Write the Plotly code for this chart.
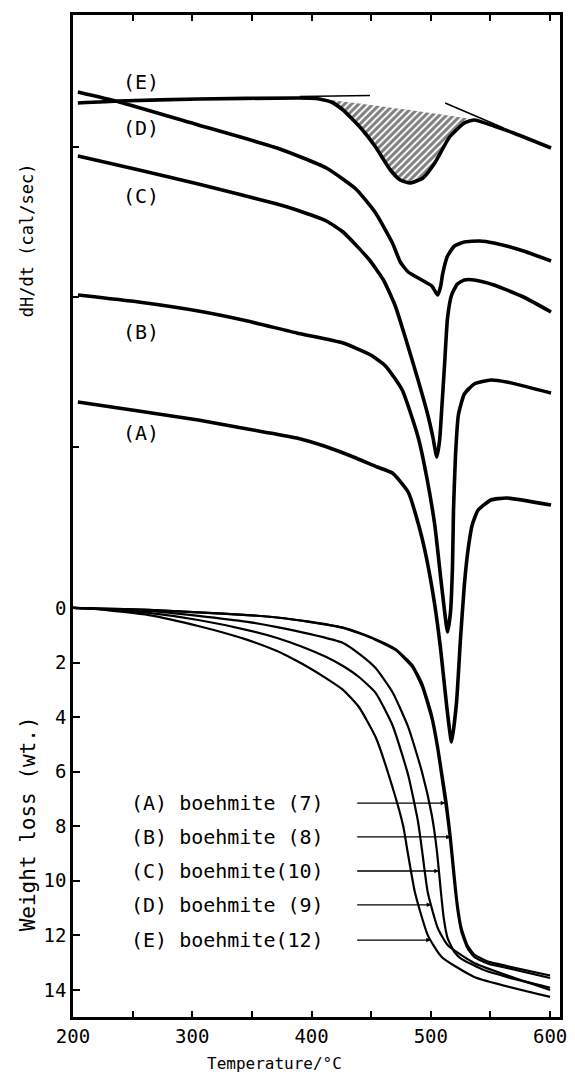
import numpy as np
import plotly.graph_objects as go

# ---- DTA curves (dH/dt, arbitrary offset units) ----
dta_A_T = [204.1, 255.0, 305.0, 346.3, 387.6, 413.0, 437.2, 455.0, 467.8, 481.0, 490.9, 496.7, 503.3,
           508.3, 513.2, 517.4, 521.5, 524.8, 528.1, 531.4, 534.7, 539.7, 550.4, 563.6, 600.8]
dta_A_v = [61.5, 60.6, 59.7, 58.8, 57.9, 57.0, 55.9, 55.0, 54.4, 52.5, 48.7, 45.7, 41.2,
           36.7, 31.2, 27.5, 31.4, 37.7, 43.2, 46.9, 49.2, 50.7, 51.7, 51.9, 51.2]

dta_B_T = [204.1, 255.0, 305.0, 346.3, 387.6, 426.4, 449.6, 462.0, 476.0, 489.3, 496.7, 503.3, 508.3,
           511.6, 514.0, 516.5, 518.2, 519.0, 520.7, 523.1, 528.1, 536.4, 550.4, 563.6, 600.8]
dta_B_v = [72.2, 71.5, 70.6, 69.6, 68.4, 67.4, 66.2, 65.1, 62.7, 58.0, 53.9, 49.2, 43.9,
           40.5, 38.5, 40.5, 45.2, 50.7, 56.2, 60.2, 62.3, 63.3, 63.7, 63.5, 62.4]

dta_C_T = [204.1, 255.4, 305.0, 371.1, 387.6, 412.4, 426.4, 447.9, 460.3, 470.2, 478.5, 489.3, 497.5,
           501.7, 505.0, 507.4, 509.1, 511.6, 514.0, 517.4, 522.3, 528.1, 536.4, 552.9, 577.7, 600.8]
dta_C_v = [86.1, 84.7, 83.3, 81.3, 80.7, 79.6, 78.5, 75.8, 73.7, 71.1, 68.0, 63.7, 60.2,
           58.0, 56.0, 57.7, 60.7, 65.4, 69.9, 72.2, 73.3, 73.7, 73.7, 73.2, 72.0, 70.5]

dta_D_T = [204.1, 238.8, 305.0, 371.1, 412.4, 437.2, 453.7, 467.8, 474.4, 481.0, 490.9, 500.8,
           505.8, 508.3, 509.9, 514.0, 519.8, 528.1, 540.5, 552.9, 577.7, 600.8]
dta_D_v = [92.5, 91.5, 89.2, 86.9, 84.9, 82.8, 80.4, 77.4, 75.5, 74.5, 73.8, 73.1,
           72.2, 73.1, 74.3, 76.1, 77.1, 77.5, 77.6, 77.4, 76.6, 75.6]

dta_E_T = [204.1, 238.8, 305.0, 388.0, 404.0, 416.5, 426.4, 441.3, 453.7, 466.1, 474.4, 482.6,
           493.4, 503.3, 515.7, 528.1, 536.4, 552.9, 569.4, 600.8]
dta_E_v = [91.4, 91.6, 91.8, 91.9, 91.85, 91.5, 90.7, 88.9, 87.0, 84.7, 83.7, 83.4,
           83.9, 85.4, 88.0, 89.4, 89.7, 89.1, 88.4, 86.9]

# tangent construction lines on curve E
tan_left_T = [390, 449]
tan_left_v = [92.05, 92.15]
tan_right_T = [512, 561]
tan_right_v = [91.4, 88.9]
peak_span = [404, 536.4]        # shaded endotherm of E

# ---- TG curves (weight loss, wt.%) ----
tg_A_T = [200, 222.3, 263.6, 305.0, 346.3, 371.1, 398.0, 426.4, 440.0, 453.7, 470.2, 484.3, 492.6,
          500.8, 505.8, 509.9, 513.2, 516.5, 519.8, 522.3, 525.6, 530.6, 536.4, 548.8, 563.6, 600]
tg_A_w = [0, 0.02, 0.07, 0.16, 0.26, 0.35, 0.51, 0.73, 0.93, 1.17, 1.54, 2.16, 2.89,
          4.10, 5.28, 6.49, 7.48, 8.68, 10.15, 11.07, 11.87, 12.46, 12.79, 13.05, 13.19, 13.56]

tg_B_T = tg_A_T
tg_B_w = [0, 0.02, 0.07, 0.16, 0.26, 0.35, 0.50, 0.72, 0.91, 1.15, 1.50, 2.08, 2.75,
          3.90, 5.00, 6.15, 7.10, 8.30, 9.75, 10.80, 11.70, 12.35, 12.70, 12.97, 13.12, 13.47]

tg_C_T = [200, 222.3, 263.6, 305.0, 346.3, 371.1, 398.0, 426.4, 440.0, 453.7, 467.8, 481.0, 492.6,
          500.8, 505.0, 508.3, 510.8, 514.0, 519.8, 525.6, 544.6, 563.6, 600]
tg_C_w = [0, 0.03, 0.11, 0.29, 0.51, 0.70, 0.95, 1.28, 1.68, 2.20, 3.08, 4.36, 6.01,
          7.59, 8.87, 10.33, 11.36, 12.09, 12.61, 12.86, 13.27, 13.52, 13.92]

tg_D_T = [200, 222.3, 263.6, 305.0, 346.3, 371.1, 392.0, 412.4, 426.0, 439.7, 453.7, 467.8, 481.0,
          489.3, 492.6, 497.5, 505.8, 514.0, 536.4, 600]
tg_D_w = [0, 0.04, 0.18, 0.44, 0.81, 1.10, 1.42, 1.80, 2.12, 2.53, 3.11, 4.29, 6.12,
          7.84, 8.87, 10.44, 11.73, 12.35, 13.01, 14.00]

tg_E_T = [200, 222.3, 263.6, 305.0, 346.3, 371.1, 385.0, 398.3, 412.0, 426.4, 439.7, 453.7, 467.8,
          476.9, 480.2, 486.8, 497.5, 509.1, 536.4, 600]
tg_E_w = [0, 0.05, 0.26, 0.66, 1.17, 1.58, 1.88, 2.20, 2.57, 3.00, 3.63, 4.73, 6.56,
          8.00, 8.85, 10.45, 12.00, 12.79, 13.52, 14.25]

curve_labels = ["(A)", "(B)", "(C)", "(D)", "(E)"]
label_v = [58.4, 68.5, 82.1, 88.9, 93.5]
legend_text = ["(A) boehmite (7)", "(B) boehmite (8)", "(C) boehmite(10)",
               "(D) boehmite (9)", "(E) boehmite(12)"]
legend_w = [7.15, 8.39, 9.64, 10.88, 12.17]

x_ticks = [200, 300, 400, 500, 600]
w_ticks = [0, 2, 4, 6, 8, 10, 12, 14]

MONO = "DejaVu Sans Mono"
fig = go.Figure()

# shaded area between E and its baseline
eT = np.array(dta_E_T, float)
ev = np.array(dta_E_v, float)
sel = (eT >= peak_span[0]) & (eT <= peak_span[1])
poly_T = list(eT[sel]) + [eT[sel][0]]
poly_v = list(ev[sel]) + [ev[sel][0]]
fig.add_trace(go.Scatter(x=poly_T, y=poly_v, yaxis="y2", mode="lines",
                         line=dict(width=0, color="black", shape="spline", smoothing=0.5),
                         fill="toself", fillcolor="white",
                         fillpattern=dict(shape="/", size=5, solidity=0.6,
                                          fgcolor="black", bgcolor="white"),
                         hoverinfo="skip", showlegend=False))

for T, v in [(dta_A_T, dta_A_v), (dta_B_T, dta_B_v), (dta_C_T, dta_C_v),
             (dta_D_T, dta_D_v), (dta_E_T, dta_E_v)]:
    fig.add_trace(go.Scatter(x=T, y=v, yaxis="y2", mode="lines",
                             line=dict(color="black", width=3.6, shape="spline", smoothing=0.5),
                             showlegend=False))

for T, v in [(tan_left_T, tan_left_v), (tan_right_T, tan_right_v)]:
    fig.add_trace(go.Scatter(x=T, y=v, yaxis="y2", mode="lines",
                             line=dict(color="black", width=1.6), showlegend=False))

tg = [(tg_A_T, tg_A_w), (tg_B_T, tg_B_w), (tg_C_T, tg_C_w), (tg_D_T, tg_D_w), (tg_E_T, tg_E_w)]
for T, w in tg:
    fig.add_trace(go.Scatter(x=T, y=w, mode="lines",
                             line=dict(color="black", width=2.2, shape="spline", smoothing=0.5),
                             showlegend=False))

annotations = []
for txt, v in zip(curve_labels, label_v):
    annotations.append(dict(x=257, y=v, xref="x", yref="y2", text=txt, showarrow=False,
                            font=dict(family=MONO, size=20, color="black")))

for txt, w, (T, ww) in zip(legend_text, legend_w, tg):
    annotations.append(dict(x=247, y=w, xref="x", yref="y", text=txt, showarrow=False,
                            xanchor="left", yanchor="middle",
                            font=dict(family=MONO, size=20, color="black")))
    target = float(np.interp(w, ww, T))
    annotations.append(dict(x=target, y=w, xref="x", yref="y", ax=437, ay=w,
                            axref="x", ayref="y", text="", showarrow=True,
                            arrowhead=2, arrowsize=0.7, arrowwidth=1.3, arrowcolor="black"))

annotations += [
    dict(x=-0.093, y=0.775, xref="paper", yref="paper", text="dH/dt (cal/sec)",
         xanchor="center", yanchor="middle",
         textangle=-90, showarrow=False, font=dict(family=MONO, size=17, color="black")),
    dict(x=-0.093, y=0.193, xref="paper", yref="paper", text="Weight loss (wt.)",
         xanchor="center", yanchor="middle",
         textangle=-90, showarrow=False, font=dict(family=MONO, size=21, color="black")),
    dict(x=0.413, y=-0.046, xref="paper", yref="paper", text="Temperature/°C",
         xanchor="center", yanchor="middle",
         showarrow=False, font=dict(family=MONO, size=16, color="black")),
]

fig.update_layout(
    width=575, height=1076, autosize=False,
    margin=dict(l=73, r=8, t=15, b=59),
    plot_bgcolor="white", paper_bgcolor="white",
    showlegend=False,
    annotations=annotations,
    xaxis=dict(range=[200, 608.3], tickvals=x_ticks, ticks="inside", ticklen=6,
               tickwidth=2, tickcolor="black",
               minor=dict(tickvals=[250, 350, 450, 550], ticks="inside", ticklen=6,
                          tickwidth=2, tickcolor="black"),
               showline=True, linewidth=2.5, linecolor="black", mirror="ticks",
               showgrid=False, zeroline=False,
               tickfont=dict(family=MONO, size=19, color="black")),
    yaxis=dict(range=[14.99, -21.73], tickvals=w_ticks, ticks="inside", ticklen=7,
               tickwidth=2, tickcolor="black",
               showline=True, linewidth=2.5, linecolor="black", mirror=True,
               showgrid=False, zeroline=False,
               tickfont=dict(family=MONO, size=19, color="black")),
    yaxis2=dict(range=[0, 100.2], overlaying="y", side="left", anchor="x",
                tickvals=[57, 72, 87], ticks="inside", ticklen=6, tickwidth=2,
                tickcolor="black", showticklabels=False, showgrid=False,
                zeroline=False, showline=False),
)

fig.write_html("out.html", config={"responsive": False})
